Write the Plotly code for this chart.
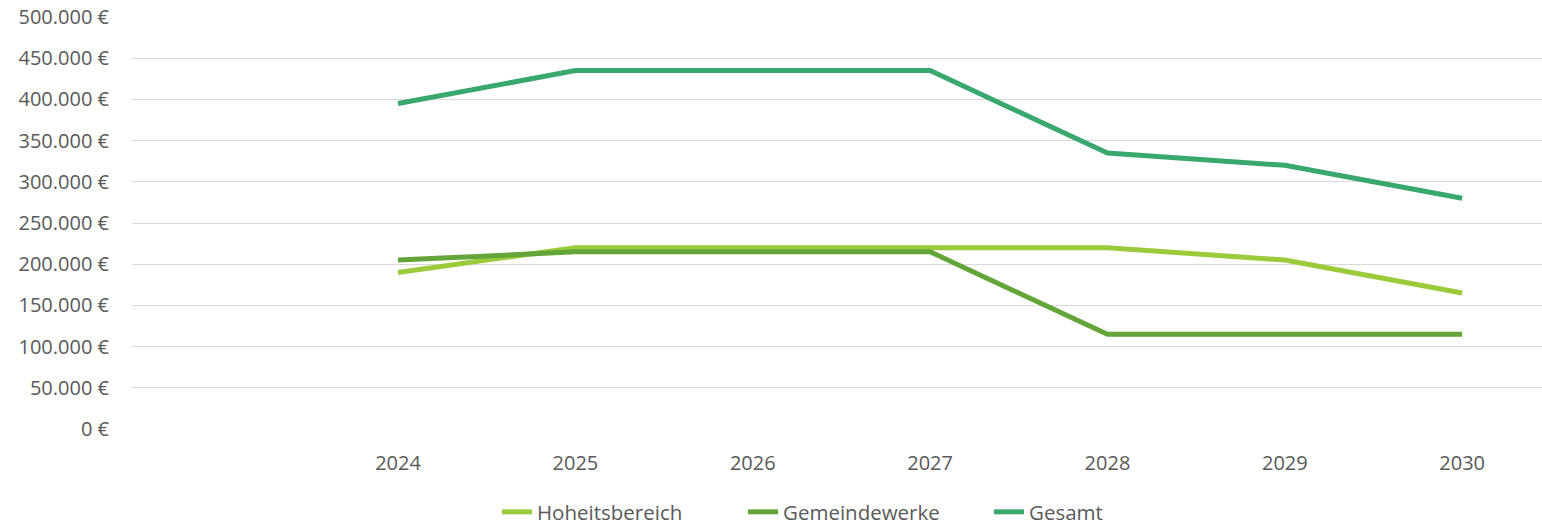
import plotly.graph_objects as go

years = [2024, 2025, 2026, 2027, 2028, 2029, 2030]
hoheitsbereich = [190000, 220000, 220000, 220000, 220000, 205000, 165000]
gemeindewerke = [205000, 215000, 215000, 215000, 115000, 115000, 115000]
gesamt = [395000, 435000, 435000, 435000, 335000, 320000, 280000]

y_ticks = [0, 50000, 100000, 150000, 200000, 250000, 300000, 350000, 400000, 450000, 500000]
y_labels = ["0 €", "50.000 €", "100.000 €", "150.000 €", "200.000 €", "250.000 €",
            "300.000 €", "350.000 €", "400.000 €", "450.000 €", "500.000 €"]

series = [
    ("Hoheitsbereich", hoheitsbereich, "#9BCB3B"),
    ("Gemeindewerke", gemeindewerke, "#64A539"),
    ("Gesamt", gesamt, "#38A86F"),
]

fig = go.Figure()
for name, vals, col in series:
    fig.add_trace(go.Scatter(x=years, y=vals, name=name, mode="lines",
                             line=dict(color=col, width=5)))

font_family = "Open Sans, Liberation Sans, sans-serif"
fig.update_layout(
    width=1542, height=525,
    margin=dict(l=132, r=0, t=17, b=96, autoexpand=False),
    paper_bgcolor="white", plot_bgcolor="white",
    font=dict(family=font_family, size=20, color="#595959"),
    showlegend=True,
    legend=dict(orientation="h", x=497 / 1542, xanchor="left", xref="container",
                y=13 / 525, yanchor="middle", yref="container",
                entrywidth=201, entrywidthmode="pixels",
                font=dict(size=20.5, color="#595959"), tracegroupgap=0),
    xaxis=dict(range=[2022.5, 2030.45], tickmode="array", tickvals=years,
               ticktext=[str(y) for y in years], showgrid=False, zeroline=False,
               showline=False, ticks="", ticklabelstandoff=20,
               tickfont=dict(size=20, color="#595959")),
    yaxis=dict(range=[0, 500000], tickmode="array", tickvals=y_ticks, ticktext=y_labels,
               showgrid=True, gridcolor="#D9D9D9", gridwidth=1.3, zeroline=False,
               showline=False, ticks="", ticklabelstandoff=22,
               tickfont=dict(size=20, color="#595959")),
)

fig.write_html("out.html", config={"displayModeBar": False},
               post_script="document.body.style.margin='0';document.body.style.overflow='hidden';document.documentElement.style.overflow='hidden';")
